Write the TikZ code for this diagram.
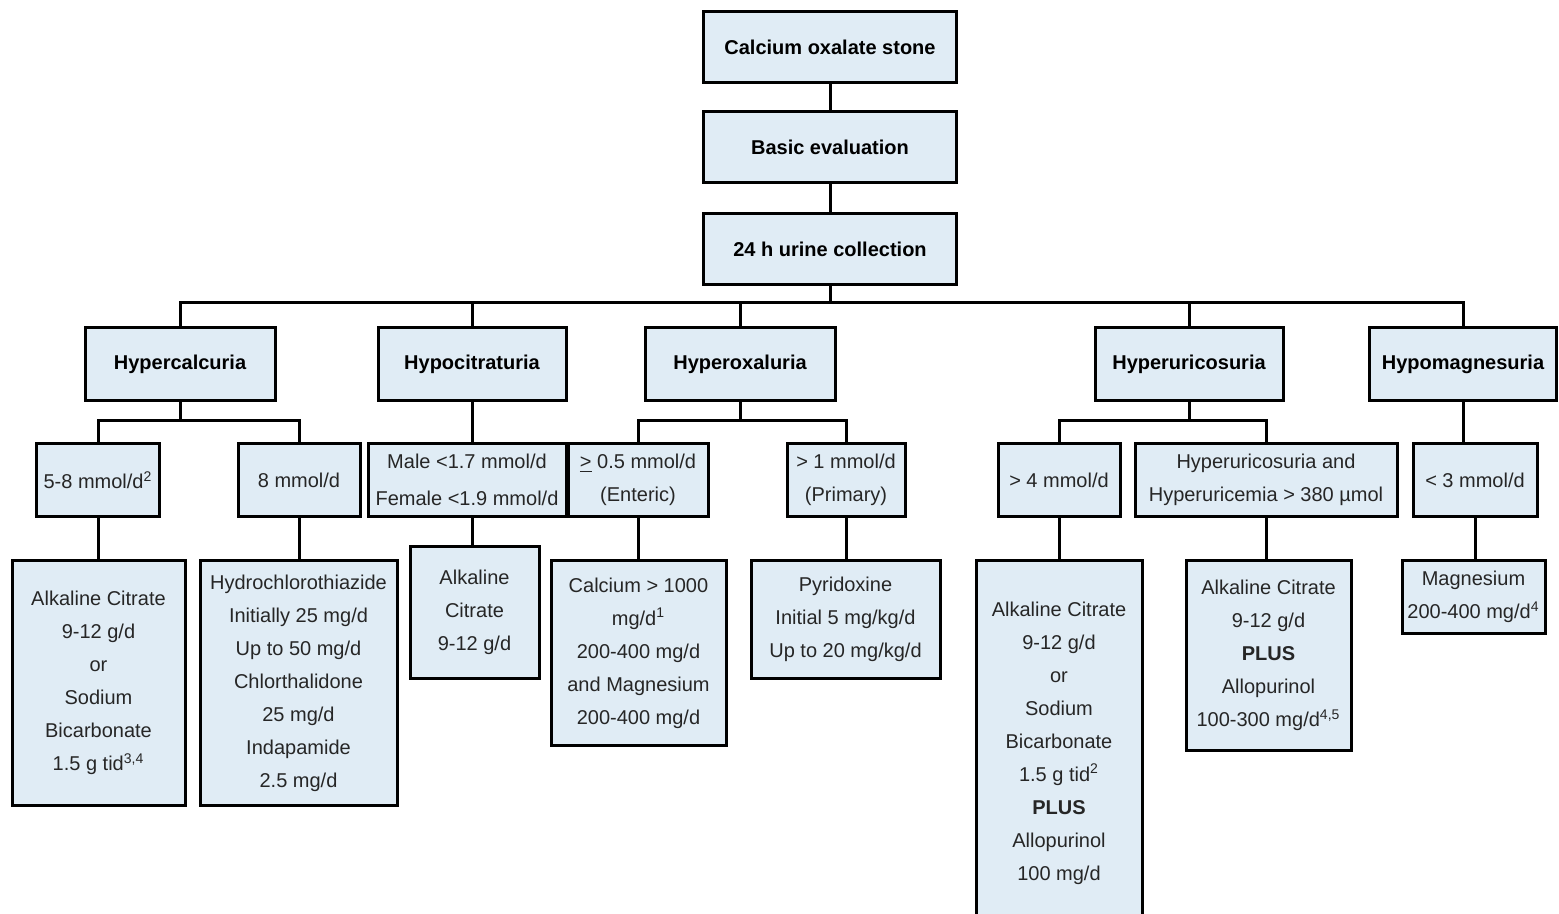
\documentclass[tikz,border=0pt]{standalone}
\usepackage{fontspec}
\setmainfont{Liberation Sans}
\usepackage{xcolor}
\usepackage{tikz}
\usetikzlibrary{positioning}
\definecolor{boxfill}{HTML}{E0ECF5}
\tikzset{box/.style={draw, line width=1.5pt, fill=boxfill, align=center,
                     inner sep=1pt, text=black!85,
                     font=\fontsize{10}{16.5}\selectfont},
         head/.style={box, text=black, font=\bfseries\fontsize{10}{12}\selectfont,
                      minimum height=36.5pt},
         level/.style={box, minimum height=36.5pt},
         link/.style={line width=1.5pt},
         node distance=13pt,
         }
\begin{document}
\begin{tikzpicture}[x=0.5pt, y=-0.5pt]
    \useasboundingbox (0,0) rectangle (1559,914);
    \clip (0,0) rectangle (1559,914);

    \node[head, minimum width=126.5pt, minimum height=35.5pt] (stone) at (830,47) {Calcium oxalate stone};
    \node[head, minimum width=126.5pt, minimum height=35.5pt, below=of stone] (basic) {Basic evaluation};
    \node[head, minimum width=126.5pt, minimum height=35.5pt, below=14pt of basic] (urine) {24 h urine collection};

    \node[head, minimum width=95pt] (hcal) at (180,364) {Hypercalcuria};
    \node[head, minimum width=94pt] (hcit) at (472,364) {Hypocitraturia};
    \node[head, minimum width=95pt] (hox) at (740,364) {Hyperoxaluria};
    \node[head, minimum width=94pt] (huric) at (1189,364) {Hyperuricosuria};
    \node[head, minimum width=93.5pt] (hmag) at (1463,364) {Hypomagnesuria};

    \node[level, minimum width=61.5pt] (cal58) at (98,480) {5-8 mmol/d\textsuperscript{2}};
    \node[level, minimum width=61pt] (cal8) at (299,480) {8 mmol/d};
    \node[level, minimum width=99pt] (citsex) at (467,480) {Male <1.7 mmol/d\\[2pt]Female <1.9 mmol/d};
    \node[level, minimum width=70pt] (oxent) at (638,480) {\underline{>} 0.5 mmol/d\\(Enteric)};
    \node[level, minimum width=59pt] (oxpri) at (846,480) {> 1 mmol/d\\(Primary)};
    \node[level, minimum width=61pt] (uric4) at (1059,480) {> 4 mmol/d};
    \node[level, minimum width=131pt] (uricem) at (1266,480) {Hyperuricosuria and\\Hyperuricemia > 380 µmol};
    \node[level, minimum width=62pt] (mag3) at (1475,480) {< 3 mmol/d};

    \node[box, minimum width=86.5pt, minimum height=122pt] (tcal58) at (98.5,683)
        {Alkaline Citrate\\9-12 g/d\\or\\Sodium\\Bicarbonate\\1.5 g tid\textsuperscript{3,4}};
    \node[box, minimum width=98.5pt, minimum height=122pt] (tcal8) at (298.5,683)
        {Hydrochlorothiazide\\Initially 25 mg/d\\Up to 50 mg/d\\Chlorthalidone\\25 mg/d\\Indapamide\\2.5 mg/d};
    \node[box, minimum width=64.5pt, minimum height=65.5pt] (tcit) at (474.5,612.5)
        {Alkaline\\Citrate\\9-12 g/d};
    \node[box, minimum width=87.5pt, minimum height=92pt] (toxent) at (638.5,653)
        {Calcium > 1000\\mg/d\textsuperscript{1}\\200-400 mg/d\\and Magnesium\\200-400 mg/d};
    \node[box, minimum width=94.5pt, minimum height=58.5pt] (toxpri) at (845.5,619.5)
        {Pyridoxine\\Initial 5 mg/kg/d\\Up to 20 mg/kg/d};
    \node[box, minimum width=83pt, minimum height=182pt] (turic4) at (1059,743)
        {Alkaline Citrate\\9-12 g/d\\or\\Sodium\\Bicarbonate\\1.5 g tid\textsuperscript{2}\\\textbf{PLUS}\\Allopurinol\\100 mg/d};
    \node[box, minimum width=82.5pt, minimum height=94.5pt] (turicem) at (1268.5,655.5)
        {Alkaline Citrate\\9-12 g/d\\\textbf{PLUS}\\Allopurinol\\100-300 mg/d\textsuperscript{4,5}};
    \node[box, minimum width=71.5pt, minimum height=36pt] (tmag) at (1473.5,597)
        {Magnesium\\200-400 mg/d\textsuperscript{4}};

    \coordinate (busA) at (0,303);
    \coordinate (busB) at (0,421);

    \draw[link] (stone) -- (basic);
    \draw[link] (basic) -- (urine);
    \draw[link] (urine.south) -- (urine.south |- busA);
    \draw[link] (hcal.north) |- (busA -| hmag.north) -- (hmag.north);
    \draw[link] (hcit.north) -- (hcit.north |- busA);
    \draw[link] (hox.north) -- (hox.north |- busA);
    \draw[link] (huric.north) -- (huric.north |- busA);

    \draw[link] (hcal.south) -- (hcal.south |- busB);
    \draw[link] (cal58.north) |- (busB -| cal8.north) -- (cal8.north);
    \draw[link] (hcit.south) -- (hcit.south |- citsex.north);
    \draw[link] (hox.south) -- (hox.south |- busB);
    \draw[link] (oxent.north) |- (busB -| oxpri.north) -- (oxpri.north);
    \draw[link] (huric.south) -- (huric.south |- busB);
    \draw[link] (uric4.north) |- (busB -| uricem.north) -- (uricem.north);
    \draw[link] (hmag.south) -- (hmag.south |- mag3.north);

    \draw[link] (cal58.south) -- (cal58.south |- tcal58.north);
    \draw[link] (cal8.south) -- (cal8.south |- tcal8.north);
    \draw[link] (hcit.south |- citsex.south) -- (hcit.south |- tcit.north);
    \draw[link] (oxent.south) -- (oxent.south |- toxent.north);
    \draw[link] (oxpri.south) -- (oxpri.south |- toxpri.north);
    \draw[link] (uric4.south) -- (uric4.south |- turic4.north);
    \draw[link] (uricem.south) -- (uricem.south |- turicem.north);
    \draw[link] (mag3.south) -- (mag3.south |- tmag.north);
\end{tikzpicture}
\end{document}
